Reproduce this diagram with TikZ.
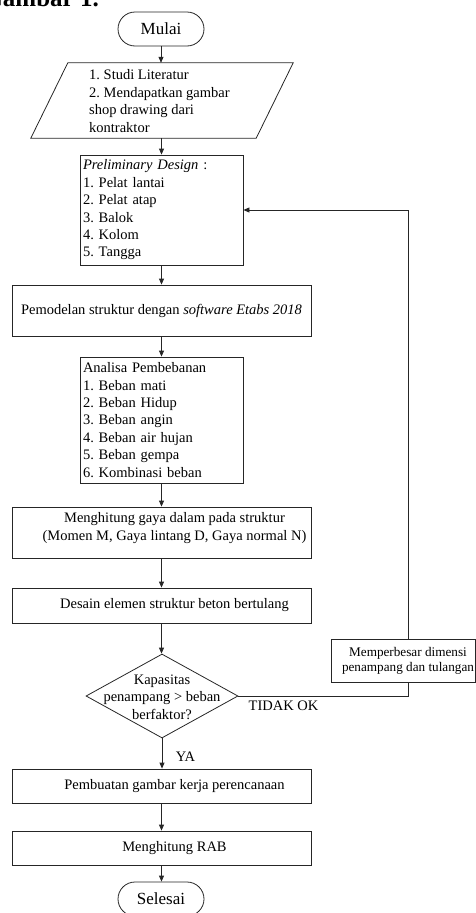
\documentclass[tikz,border=0pt]{standalone}
\usepackage{fontspec}
\setmainfont{Liberation Serif}
\usetikzlibrary{shapes.geometric,arrows.meta,calc}
\frenchspacing
\begin{document}
\begin{tikzpicture}[x=1pt,y=-1pt,
  every node/.style={font=\fontsize{14.5}{17.4}\selectfont},
  line/.style={draw=black!85, line width=0.8pt},
  term/.style={line, rounded corners=17pt, minimum width=86pt, minimum height=34pt, inner sep=0pt, font=\fontsize{17}{20}\selectfont},
  box/.style={line, rectangle, inner sep=3pt},
  txt/.style={inner sep=0pt, align=center},
  arr/.style={line, -{Triangle[length=6pt,width=5pt]}}
]
\useasboundingbox (0,0) rectangle (476,913);

\node[anchor=base east, inner sep=0pt, font=\fontsize{25}{27}\bfseries\selectfont] (title) at (99,6.5) {Gambar 1.};

\node[term] (start) at (161,29) {Mulai};

\node[minimum width=262pt, minimum height=75pt, inner sep=0pt] (inp) at (162,100.5) {};
\draw[line] ([xshift=37pt]inp.north west) -- (inp.north east) -- ([xshift=-37pt]inp.south east) -- (inp.south west) -- cycle;
\node[txt, align=left, anchor=west] (inptxt) at (89,101) {1. Studi Literatur\\2. Mendapatkan gambar\\shop drawing dari\\kontraktor};

\node[box, text width=157pt, align=left, minimum height=110pt] (pre) at (161.5,210) {\textit{Preliminary Design} :\\1. Pelat lantai\\2. Pelat atap\\3. Balok\\4. Kolom\\5. Tangga};

\node[box, minimum width=299pt, minimum height=51pt] (mod) at (161.5,310.5) {Pemodelan struktur dengan \textit{software Etabs 2018}};

\node[box, text width=157pt, align=left, minimum height=126pt] (ana) at (161.5,420) {Analisa Pembebanan\\1. Beban mati\\2. Beban Hidup\\3. Beban angin\\4. Beban air hujan\\5. Beban gempa\\6. Kombinasi beban};

\node[box, minimum width=299pt, minimum height=51pt] (gaya) at (161.5,532.5) {};
\node[txt] (gayatxt) at (174.5,528) {Menghitung gaya dalam pada struktur\\(Momen M, Gaya lintang D, Gaya normal N)};

\node[box, minimum width=299pt, minimum height=35pt] (des) at (161.5,605.5) {};
\node[txt] (destxt) at (174.5,605.5) {Desain elemen struktur beton bertulang};

\node[line, diamond, minimum width=152pt, minimum height=84pt, inner sep=0pt] (dia) at (162,696) {};
\node[txt] (diatxt) at (162,697) {Kapasitas\\penampang > beban\\berfaktor?};

\node[box, minimum width=299pt, minimum height=34pt] (gam) at (161.5,786) {};
\node[txt] (gamtxt) at (174.5,786) {Pembuatan gambar kerja perencanaan};

\node[box, minimum width=299pt, minimum height=34pt] (rab) at (161.5,848) {};
\node[txt] (rabtxt) at (174.5,848) {Menghitung RAB};

\node[term] (end) at (161,899) {Selesai};

\node[box, minimum width=144pt, minimum height=43pt] (mem) at (403,660.5) {};
\node[txt, font=\fontsize{13.2}{14.7}\selectfont] (memtxt) at (408,661) {Memperbesar dimensi\\penampang dan tulangan};

\node[txt] (ya) at (185.5,757) {YA};
\node[txt] (tidak) at (283.5,706) {TIDAK OK};

\draw[arr] (start.south) -- (start.south |- inp.north);
\draw[arr] (inp.south -| pre.north) -- (pre.north);
\draw[arr] (pre.south) -- (pre.south |- mod.north);
\draw[arr] (mod.south) -- (mod.south |- ana.north);
\draw[arr] (ana.south) -- (ana.south |- gaya.north);
\draw[arr] (gaya.south) -- (gaya.south |- des.north);
\draw[arr] (des.south) -- (des.south |- dia.north);
\draw[arr] (dia.south) -- (dia.south |- gam.north);
\draw[arr] (gam.south) -- (gam.south |- rab.north);
\draw[arr] (rab.south) -- (rab.south |- end.north);

\draw[line] (dia.east) -| ([xshift=5pt]mem.south);
\draw[arr] ([xshift=5pt]mem.north) |- (pre.east);
\end{tikzpicture}
\end{document}
